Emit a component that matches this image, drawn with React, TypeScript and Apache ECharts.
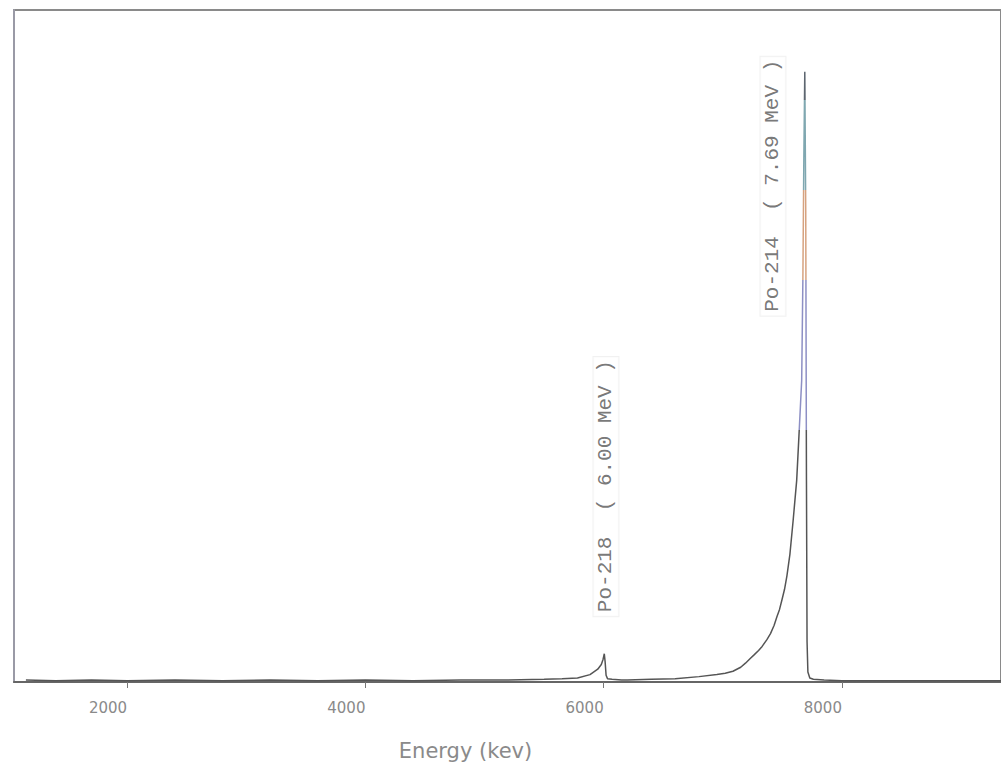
import React, { useEffect, useRef } from "react";
import * as echarts from "echarts";

// Energy axis (keV)
const xMin = 1050;
const xMax = 9335;
const tickValues = [2000, 4000, 6000, 8000];

// Spectrum: [energy keV, relative counts]
const baseline: number[][] = [
  [1150, 3], [1400, 2], [1700, 3], [2000, 2], [2400, 3], [2800, 2],
  [3200, 3], [3600, 2], [4000, 3], [4400, 2], [4800, 3], [5200, 3], [5500, 4],
];
const po218Peak: number[][] = [
  [5650, 5], [5780, 6], [5885, 11], [5950, 19], [5980, 26], [5995, 34],
  [6005, 42], [6012, 30], [6020, 10], [6032, 5], [6070, 4], [6150, 3],
];
const po214Peak: number[][] = [
  [6200, 3], [6400, 4], [6600, 5], [6800, 8], [6950, 11], [7020, 13],
  [7085, 16], [7150, 22], [7190, 28], [7230, 35], [7260, 40], [7300, 47],
  [7330, 53], [7370, 63], [7400, 72], [7430, 84], [7454, 97], [7476, 108],
  [7496, 122], [7518, 138], [7538, 158], [7563, 190], [7590, 240],
  [7620, 300], [7640, 370], [7662, 449], [7672, 600], [7680, 780],
  [7688, 908], [7696, 700], [7702, 300], [7707, 60], [7714, 15],
  [7730, 6], [7760, 4], [7850, 3],
];
const tail: number[][] = [
  [8000, 2], [8300, 2], [8700, 2], [9100, 2], [9335, 2],
];

// Peak annotations: label text and the point where the text starts
const peakNames = ["Po-218  ( 6.00 MeV )", "Po-214  ( 7.69 MeV )"];
const labelAnchors: number[][] = [
  [6019, 98],
  [7421, 545],
];

export default function App() {
  const ref = useRef<HTMLDivElement>(null);

  useEffect(() => {
    if (!ref.current) return;
    const chart = echarts.init(ref.current, null, { renderer: "svg" });
    const spectrum = [...baseline, ...po218Peak, ...po214Peak, ...tail];

    chart.setOption({
      animation: false,
      backgroundColor: "#ffffff",
      grid: {
        left: 14,
        top: 10,
        right: 0,
        bottom: 85,
        show: true,
        borderColor: "#8a8a8a",
        borderWidth: 2,
      },
      xAxis: {
        type: "value",
        min: xMin,
        max: xMax,
        name: "Energy (kev)",
        nameLocation: "middle",
        nameGap: 58,
        nameTextStyle: {
          fontFamily: "DejaVu Sans",
          fontSize: 21,
          color: "#8a8a8a",
          padding: [0, 84, 0, 0],
        },
        splitLine: { show: false },
        axisLine: { show: true, lineStyle: { color: "#666", width: 2 } },
        axisTick: {
          show: true,
          length: 6,
          customValues: tickValues,
          lineStyle: { color: "#777" },
        },
        axisLabel: {
          customValues: tickValues,
          formatter: (v: number) => String(v),
          align: "right",
          margin: 18,
          fontFamily: "DejaVu Sans",
          fontSize: 15,
          color: "#8a8a8a",
        },
      },
      yAxis: {
        type: "value",
        min: 0,
        max: 1000,
        axisLabel: { show: false },
        axisTick: { show: false },
        splitLine: { show: false },
        axisLine: { show: true, lineStyle: { color: "#9a9aa6", width: 2 } },
      },
      visualMap: {
        show: false,
        type: "piecewise",
        dimension: 1,
        seriesIndex: 0,
        pieces: [
          { lt: 375, color: "#555555" },
          { gte: 375, lt: 598, color: "#8d8fc4" },
          { gte: 598, lt: 732, color: "#d6a27f" },
          { gte: 732, lt: 866, color: "#7fa7b0" },
          { gte: 866, color: "#5d6670" },
        ],
      },
      series: [
        {
          type: "line",
          data: spectrum,
          showSymbol: false,
          symbol: "none",
          lineStyle: { width: 1.5 },
        },
        {
          type: "scatter",
          symbolSize: 0,
          silent: true,
          data: labelAnchors.map((p, i) => ({ value: p, name: peakNames[i] })),
          label: {
            show: true,
            position: "inside",
            formatter: (p: any) => p.name,
            rotate: 90,
            align: "left",
            verticalAlign: "middle",
            fontFamily: "'Courier New', 'Liberation Mono', monospace",
            fontSize: 21,
            color: "#555",
            backgroundColor: "#ffffff",
            borderColor: "#ededed",
            borderWidth: 1,
            padding: [2, 3, 2, 4],
          },
        },
      ],
    });

    return () => chart.dispose();
  }, []);

  return (
    <div
      ref={ref}
      style={{ position: "fixed", left: 0, top: 0, width: 1001, height: 767, background: "#fff" }}
    />
  );
}
